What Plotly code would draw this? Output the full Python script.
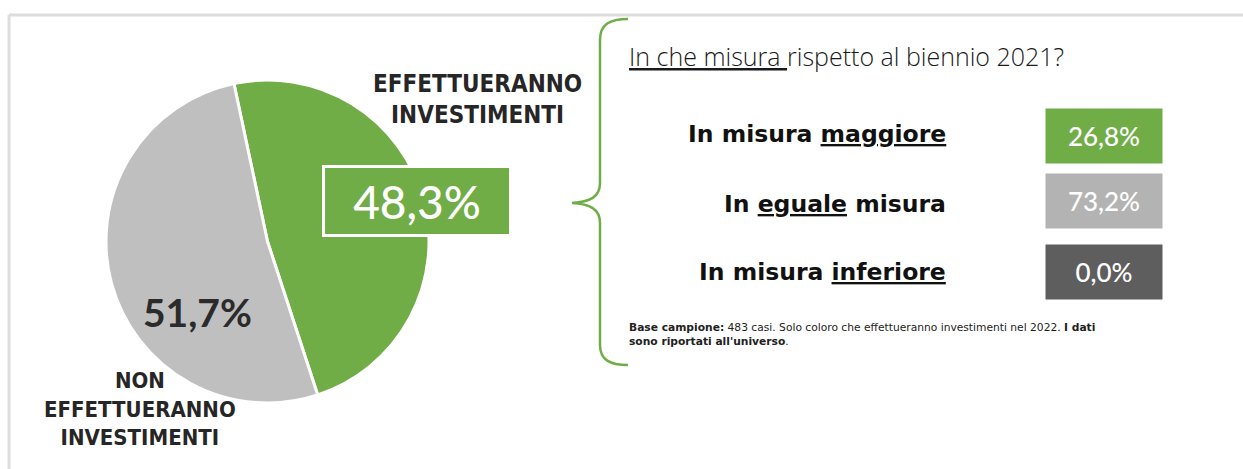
import plotly.graph_objects as go

W, H = 1243, 469

# ---- data ----
pie_labels = ["EFFETTUERANNO INVESTIMENTI", "NON EFFETTUERANNO INVESTIMENTI"]
pie_values = [48.3, 51.7]
pie_colors = ["#70AD47", "#BFBFBF"]

sub_categories = ["In misura <u>maggiore</u>", "In <u>eguale</u> misura", "In misura <u>inferiore</u>"]
sub_values = [26.8, 73.2, 0.0]
sub_colors = ["#70AD47", "#B3B3B3", "#5E5E5E"]

title_text = "<u>In che misura </u>rispetto al biennio 2021?"
note_text = ("<b>Base campione:</b> 483 casi. Solo coloro che effettueranno investimenti nel 2022. <b>I dati</b><br>"
             "<b>sono riportati all'universo</b>.")


def fmt(v):
    return f"{v:.1f}".replace(".", ",") + "%"


def px(x):
    return x / W


def py(y):
    return 1 - y / H


NARROW = "DejaVu Sans Condensed, Liberation Sans Narrow, Roboto, sans-serif"
GEO = "Lato, Open Sans, sans-serif"
WIDE = "DejaVu Sans, Verdana, sans-serif"
LIGHT = "Open Sans, Lato, sans-serif"

fig = go.Figure()
fig.add_trace(go.Pie(
    labels=pie_labels, values=pie_values, sort=False, direction="clockwise",
    rotation=-12, textinfo="none", hoverinfo="label+percent",
    marker=dict(colors=pie_colors, line=dict(color="white", width=3)),
    domain=dict(x=[px(103), px(432)], y=[py(403), py(80)]),
    showlegend=False,
))

ann = []
# pie labels
ann.append(dict(x=px(477), y=py(99), text="EFFETTUERANNO<br>INVESTIMENTI",
                font=dict(family=NARROW, size=24, color="#262626", weight="bold")))
ann.append(dict(x=px(140), y=py(409), text="NON<br>EFFETTUERANNO<br>INVESTIMENTI",
                font=dict(family=NARROW, size=22, color="#262626", weight="bold")))
ann.append(dict(x=px(417), y=py(201), text=fmt(pie_values[0]),
                font=dict(family=GEO, size=46, color="white", weight=500),
                bgcolor=pie_colors[0], bordercolor="white", borderwidth=3,
                width=184, height=66, borderpad=0))
ann.append(dict(x=px(197), y=py(312), text=fmt(pie_values[1]),
                font=dict(family=GEO, size=39, color="#2b2b2b", weight="bold")))

# right panel title
ann.append(dict(x=px(627), y=py(56), text=title_text, xanchor="left",
                font=dict(family=LIGHT, size=25, color="#1a1a1a", weight=300)))

rows_y = [134, 204, 272]
box_y = [136, 201, 272]
for cat, val, col, yy, by in zip(sub_categories, sub_values, sub_colors, rows_y, box_y):
    ann.append(dict(x=px(948), y=py(yy), text=cat, xanchor="right",
                    font=dict(family=WIDE, size=23.5, color="#111111", weight="bold")))
    ann.append(dict(x=px(1104), y=py(by), text=fmt(val),
                    font=dict(family=GEO, size=26, color="white", weight=500),
                    bgcolor=col, width=116, height=54, borderpad=0))

ann.append(dict(x=px(627), y=py(334), text=note_text, xanchor="left", align="left",
                font=dict(family=WIDE, size=10.7, color="#222222")))

for a in ann:
    a.setdefault("xref", "paper")
    a.setdefault("yref", "paper")
    a.setdefault("xanchor", "center")
    a.setdefault("yanchor", "middle")
    a.setdefault("showarrow", False)


def brace_path():
    pts = [
        ("M", [(628, 19)]),
        ("C", [(610, 19), (600, 24), (600, 40)]),
        ("L", [(600, 183)]),
        ("C", [(600, 197), (590, 202), (572, 203)]),
        ("C", [(590, 204), (600, 209), (600, 223)]),
        ("L", [(600, 345)]),
        ("C", [(600, 360), (610, 365), (628, 365)]),
    ]
    s = ""
    for cmd, ps in pts:
        s += cmd + " " + " ".join(f"{px(x):.5f},{py(y):.5f}" for x, y in ps) + " "
    return s.strip()


shapes = [
    dict(type="line", xref="paper", yref="paper", x0=px(9), x1=1, y0=py(15), y1=py(15),
         line=dict(color="#DDDDDD", width=3)),
    dict(type="line", xref="paper", yref="paper", x0=px(9), x1=px(9), y0=py(15), y1=0,
         line=dict(color="#DDDDDD", width=3)),
    dict(type="path", xref="paper", yref="paper", path=brace_path(),
         line=dict(color="#70AD47", width=2.5)),
]

fig.update_layout(
    width=W, height=H, margin=dict(l=0, r=0, t=0, b=0),
    paper_bgcolor="white", plot_bgcolor="white",
    annotations=ann, shapes=shapes,
)

fig.write_html("out.html", config={"displayModeBar": False},
               post_script="document.body.style.margin='0';document.body.style.overflow='hidden';")
